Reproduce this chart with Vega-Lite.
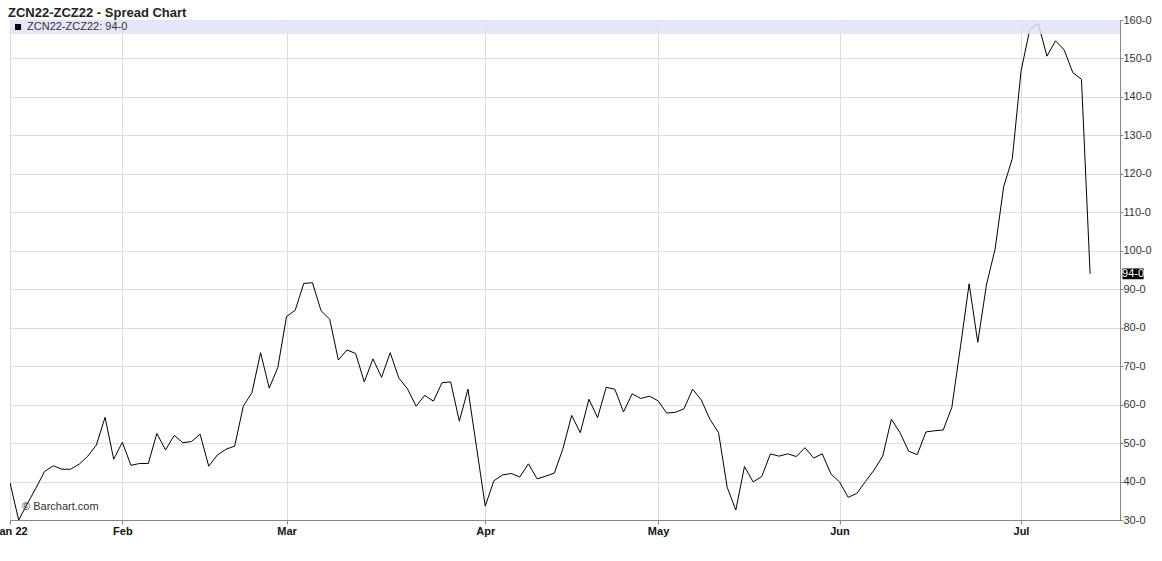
{
  "$schema": "https://vega.github.io/schema/vega-lite/v6.json",
  "width": 1110,
  "height": 500,
  "autosize": "none",
  "padding": {"left": 10, "top": 20, "right": 42, "bottom": 41},
  "background": "white",
  "title": {
    "text": "ZCN22-ZCZ22 - Spread Chart",
    "anchor": "start",
    "frame": "group",
    "dx": -2,
    "offset": -16,
    "baseline": "alphabetic",
    "font": "Liberation Sans",
    "fontSize": 13,
    "fontWeight": "bold",
    "color": "#222222"
  },
  "config": {
    "font": "Liberation Sans",
    "view": {"stroke": "#888888", "strokeWidth": 1},
    "axis": {
      "labelFont": "Liberation Sans",
      "labelFontSize": 11,
      "labelOverlap": false,
      "labelBound": false,
      "labelFlush": false,
      "tickColor": "#888888",
      "domainColor": "#888888",
      "gridColor": "#dddddd",
      "gridWidth": 1,
      "title": null
    },
    "axisX": {
      "labelFontWeight": "bold",
      "labelColor": "#111111",
      "labelPadding": 1,
      "tickSize": 4
    },
    "axisY": {
      "labelColor": "#333333",
      "labelPadding": 0,
      "tickSize": 3
    }
  },
  "data": {
    "values": [
      {"i": -13, "date": "2022-01-12", "spread": 39.7},
      {"i": -12, "date": "2022-01-13", "spread": 30.0},
      {"i": -11, "date": "2022-01-14", "spread": 34.2},
      {"i": -10, "date": "2022-01-18", "spread": 38.3},
      {"i": -9, "date": "2022-01-19", "spread": 42.6},
      {"i": -8, "date": "2022-01-20", "spread": 44.1},
      {"i": -7, "date": "2022-01-21", "spread": 43.2},
      {"i": -6, "date": "2022-01-24", "spread": 43.2},
      {"i": -5, "date": "2022-01-25", "spread": 44.5},
      {"i": -4, "date": "2022-01-26", "spread": 46.6},
      {"i": -3, "date": "2022-01-27", "spread": 49.5},
      {"i": -2, "date": "2022-01-28", "spread": 56.7},
      {"i": -1, "date": "2022-01-31", "spread": 45.8},
      {"i": 0, "date": "2022-02-01", "spread": 50.2},
      {"i": 1, "date": "2022-02-02", "spread": 44.2},
      {"i": 2, "date": "2022-02-03", "spread": 44.7},
      {"i": 3, "date": "2022-02-04", "spread": 44.7},
      {"i": 4, "date": "2022-02-07", "spread": 52.5},
      {"i": 5, "date": "2022-02-08", "spread": 48.2},
      {"i": 6, "date": "2022-02-09", "spread": 52.0},
      {"i": 7, "date": "2022-02-10", "spread": 50.1},
      {"i": 8, "date": "2022-02-11", "spread": 50.4},
      {"i": 9, "date": "2022-02-14", "spread": 52.3},
      {"i": 10, "date": "2022-02-15", "spread": 44.0},
      {"i": 11, "date": "2022-02-16", "spread": 46.9},
      {"i": 12, "date": "2022-02-17", "spread": 48.4},
      {"i": 13, "date": "2022-02-18", "spread": 49.2},
      {"i": 14, "date": "2022-02-22", "spread": 59.6},
      {"i": 15, "date": "2022-02-23", "spread": 63.1},
      {"i": 16, "date": "2022-02-24", "spread": 73.5},
      {"i": 17, "date": "2022-02-25", "spread": 64.3},
      {"i": 18, "date": "2022-02-28", "spread": 69.7},
      {"i": 19, "date": "2022-03-01", "spread": 82.9},
      {"i": 20, "date": "2022-03-02", "spread": 84.5},
      {"i": 21, "date": "2022-03-03", "spread": 91.5},
      {"i": 22, "date": "2022-03-04", "spread": 91.7},
      {"i": 23, "date": "2022-03-07", "spread": 84.4},
      {"i": 24, "date": "2022-03-08", "spread": 82.2},
      {"i": 25, "date": "2022-03-09", "spread": 71.6},
      {"i": 26, "date": "2022-03-10", "spread": 74.2},
      {"i": 27, "date": "2022-03-11", "spread": 73.3},
      {"i": 28, "date": "2022-03-14", "spread": 65.9},
      {"i": 29, "date": "2022-03-15", "spread": 71.9},
      {"i": 30, "date": "2022-03-16", "spread": 67.1},
      {"i": 31, "date": "2022-03-17", "spread": 73.5},
      {"i": 32, "date": "2022-03-18", "spread": 66.9},
      {"i": 33, "date": "2022-03-21", "spread": 64.1},
      {"i": 34, "date": "2022-03-22", "spread": 59.6},
      {"i": 35, "date": "2022-03-23", "spread": 62.4},
      {"i": 36, "date": "2022-03-24", "spread": 60.9},
      {"i": 37, "date": "2022-03-25", "spread": 65.7},
      {"i": 38, "date": "2022-03-28", "spread": 65.9},
      {"i": 39, "date": "2022-03-29", "spread": 55.7},
      {"i": 40, "date": "2022-03-30", "spread": 64.0},
      {"i": 41, "date": "2022-03-31", "spread": 48.8},
      {"i": 42, "date": "2022-04-01", "spread": 33.6},
      {"i": 43, "date": "2022-04-04", "spread": 40.2},
      {"i": 44, "date": "2022-04-05", "spread": 41.7},
      {"i": 45, "date": "2022-04-06", "spread": 42.1},
      {"i": 46, "date": "2022-04-07", "spread": 41.2},
      {"i": 47, "date": "2022-04-08", "spread": 44.6},
      {"i": 48, "date": "2022-04-11", "spread": 40.7},
      {"i": 49, "date": "2022-04-12", "spread": 41.4},
      {"i": 50, "date": "2022-04-13", "spread": 42.2},
      {"i": 51, "date": "2022-04-14", "spread": 48.6},
      {"i": 52, "date": "2022-04-18", "spread": 57.2},
      {"i": 53, "date": "2022-04-19", "spread": 52.7},
      {"i": 54, "date": "2022-04-20", "spread": 61.4},
      {"i": 55, "date": "2022-04-21", "spread": 56.6},
      {"i": 56, "date": "2022-04-22", "spread": 64.5},
      {"i": 57, "date": "2022-04-25", "spread": 64.0},
      {"i": 58, "date": "2022-04-26", "spread": 58.1},
      {"i": 59, "date": "2022-04-27", "spread": 62.8},
      {"i": 60, "date": "2022-04-28", "spread": 61.6},
      {"i": 61, "date": "2022-04-29", "spread": 62.2},
      {"i": 62, "date": "2022-05-02", "spread": 61.0},
      {"i": 63, "date": "2022-05-03", "spread": 57.8},
      {"i": 64, "date": "2022-05-04", "spread": 58.0},
      {"i": 65, "date": "2022-05-05", "spread": 58.9},
      {"i": 66, "date": "2022-05-06", "spread": 64.0},
      {"i": 67, "date": "2022-05-09", "spread": 61.2},
      {"i": 68, "date": "2022-05-10", "spread": 56.2},
      {"i": 69, "date": "2022-05-11", "spread": 52.7},
      {"i": 70, "date": "2022-05-12", "spread": 38.5},
      {"i": 71, "date": "2022-05-13", "spread": 32.6},
      {"i": 72, "date": "2022-05-16", "spread": 43.9},
      {"i": 73, "date": "2022-05-17", "spread": 39.9},
      {"i": 74, "date": "2022-05-18", "spread": 41.3},
      {"i": 75, "date": "2022-05-19", "spread": 47.2},
      {"i": 76, "date": "2022-05-20", "spread": 46.6},
      {"i": 77, "date": "2022-05-23", "spread": 47.2},
      {"i": 78, "date": "2022-05-24", "spread": 46.5},
      {"i": 79, "date": "2022-05-25", "spread": 48.8},
      {"i": 80, "date": "2022-05-26", "spread": 46.1},
      {"i": 81, "date": "2022-05-27", "spread": 47.2},
      {"i": 82, "date": "2022-05-31", "spread": 42.0},
      {"i": 83, "date": "2022-06-01", "spread": 39.9},
      {"i": 84, "date": "2022-06-02", "spread": 35.9},
      {"i": 85, "date": "2022-06-03", "spread": 36.9},
      {"i": 86, "date": "2022-06-06", "spread": 40.0},
      {"i": 87, "date": "2022-06-07", "spread": 43.0},
      {"i": 88, "date": "2022-06-08", "spread": 46.6},
      {"i": 89, "date": "2022-06-09", "spread": 56.2},
      {"i": 90, "date": "2022-06-10", "spread": 52.7},
      {"i": 91, "date": "2022-06-13", "spread": 47.9},
      {"i": 92, "date": "2022-06-14", "spread": 47.0},
      {"i": 93, "date": "2022-06-15", "spread": 52.9},
      {"i": 94, "date": "2022-06-16", "spread": 53.2},
      {"i": 95, "date": "2022-06-17", "spread": 53.4},
      {"i": 96, "date": "2022-06-21", "spread": 59.3},
      {"i": 97, "date": "2022-06-22", "spread": 75.1},
      {"i": 98, "date": "2022-06-23", "spread": 91.4},
      {"i": 99, "date": "2022-06-24", "spread": 76.2},
      {"i": 100, "date": "2022-06-27", "spread": 91.1},
      {"i": 101, "date": "2022-06-28", "spread": 100.4},
      {"i": 102, "date": "2022-06-29", "spread": 116.7},
      {"i": 103, "date": "2022-06-30", "spread": 124.0},
      {"i": 104, "date": "2022-07-01", "spread": 146.6},
      {"i": 105, "date": "2022-07-05", "spread": 157.4},
      {"i": 106, "date": "2022-07-06", "spread": 159.1},
      {"i": 107, "date": "2022-07-07", "spread": 150.6},
      {"i": 108, "date": "2022-07-08", "spread": 154.6},
      {"i": 109, "date": "2022-07-11", "spread": 152.2},
      {"i": 110, "date": "2022-07-12", "spread": 146.3},
      {"i": 111, "date": "2022-07-13", "spread": 144.6},
      {"i": 112, "date": "2022-07-14", "spread": 94.0}
    ]
  },
  "layer": [
    {
      "mark": {"type": "line", "color": "#000000", "strokeWidth": 1, "clip": true},
      "encoding": {
        "x": {
          "field": "i",
          "type": "quantitative",
          "scale": {"domain": [-13, 115.46], "nice": false, "zero": false},
          "axis": {
            "values": [-13, 0, 19, 42, 62, 83, 104],
            "labelExpr": "datum.value == -13 ? 'Jan 22' : datum.value == 0 ? 'Feb' : datum.value == 19 ? 'Mar' : datum.value == 42 ? 'Apr' : datum.value == 62 ? 'May' : datum.value == 83 ? 'Jun' : 'Jul'"
          }
        },
        "y": {
          "field": "spread",
          "type": "quantitative",
          "scale": {"domain": [30, 160], "nice": false, "zero": false},
          "axis": {
            "orient": "right",
            "values": [30, 40, 50, 60, 70, 80, 90, 100, 110, 120, 130, 140, 150, 160],
            "labelExpr": "datum.value + '-0'"
          }
        }
      }
    },
    {
      "data": {"values": [{"band": "legend"}]},
      "mark": {"type": "rect", "fill": "#e2e2fa", "opacity": 0.85},
      "encoding": {
        "x": {"datum": -13, "type": "quantitative", "axis": {"values": [-13, 0, 19, 42, 62, 83, 104], "labelExpr": "datum.value == -13 ? 'Jan 22' : datum.value == 0 ? 'Feb' : datum.value == 19 ? 'Mar' : datum.value == 42 ? 'Apr' : datum.value == 62 ? 'May' : datum.value == 83 ? 'Jun' : 'Jul'"}},
        "x2": {"datum": 115.46},
        "y": {"datum": 160, "type": "quantitative", "axis": {"orient": "right", "values": [30, 40, 50, 60, 70, 80, 90, 100, 110, 120, 130, 140, 150, 160], "labelExpr": "datum.value + '-0'"}},
        "y2": {"datum": 156.36}
      }
    },
    {
      "data": {"values": [{"legend": "ZCN22-ZCZ22: 94-0"}]},
      "mark": {"type": "point", "shape": "square", "filled": true, "color": "#000000", "size": 36, "opacity": 1},
      "encoding": {
        "x": {"datum": -12.07, "type": "quantitative", "axis": {"values": [-13, 0, 19, 42, 62, 83, 104], "labelExpr": "datum.value == -13 ? 'Jan 22' : datum.value == 0 ? 'Feb' : datum.value == 19 ? 'Mar' : datum.value == 42 ? 'Apr' : datum.value == 62 ? 'May' : datum.value == 83 ? 'Jun' : 'Jul'"}},
        "y": {"datum": 158.18, "type": "quantitative", "axis": {"orient": "right", "values": [30, 40, 50, 60, 70, 80, 90, 100, 110, 120, 130, 140, 150, 160], "labelExpr": "datum.value + '-0'"}}
      }
    },
    {
      "data": {"values": [{"legend": "ZCN22-ZCZ22: 94-0"}]},
      "mark": {"type": "text", "align": "left", "baseline": "middle", "fontSize": 11, "color": "#333333", "font": "Liberation Sans"},
      "encoding": {
        "x": {"datum": -11.03, "type": "quantitative", "axis": {"values": [-13, 0, 19, 42, 62, 83, 104], "labelExpr": "datum.value == -13 ? 'Jan 22' : datum.value == 0 ? 'Feb' : datum.value == 19 ? 'Mar' : datum.value == 42 ? 'Apr' : datum.value == 62 ? 'May' : datum.value == 83 ? 'Jun' : 'Jul'"}},
        "y": {"datum": 158.18, "type": "quantitative", "axis": {"orient": "right", "values": [30, 40, 50, 60, 70, 80, 90, 100, 110, 120, 130, 140, 150, 160], "labelExpr": "datum.value + '-0'"}},
        "text": {"field": "legend"}
      }
    },
    {
      "data": {"values": [{"credit": "© Barchart.com"}]},
      "mark": {"type": "text", "align": "left", "baseline": "middle", "fontSize": 11, "color": "#333333", "font": "Liberation Sans"},
      "encoding": {
        "x": {"datum": -11.61, "type": "quantitative", "axis": {"values": [-13, 0, 19, 42, 62, 83, 104], "labelExpr": "datum.value == -13 ? 'Jan 22' : datum.value == 0 ? 'Feb' : datum.value == 19 ? 'Mar' : datum.value == 42 ? 'Apr' : datum.value == 62 ? 'May' : datum.value == 83 ? 'Jun' : 'Jul'"}},
        "y": {"datum": 33.38, "type": "quantitative", "axis": {"orient": "right", "values": [30, 40, 50, 60, 70, 80, 90, 100, 110, 120, 130, 140, 150, 160], "labelExpr": "datum.value + '-0'"}},
        "text": {"field": "credit"}
      }
    },
    {
      "data": {"values": [{"last": "94-0"}]},
      "mark": {"type": "rect", "fill": "#000000"},
      "encoding": {
        "x": {"datum": 115.75, "type": "quantitative", "axis": {"values": [-13, 0, 19, 42, 62, 83, 104], "labelExpr": "datum.value == -13 ? 'Jan 22' : datum.value == 0 ? 'Feb' : datum.value == 19 ? 'Mar' : datum.value == 42 ? 'Apr' : datum.value == 62 ? 'May' : datum.value == 83 ? 'Jun' : 'Jul'"}},
        "x2": {"datum": 118.2},
        "y": {"datum": 95.4, "type": "quantitative", "axis": {"orient": "right", "values": [30, 40, 50, 60, 70, 80, 90, 100, 110, 120, 130, 140, 150, 160], "labelExpr": "datum.value + '-0'"}},
        "y2": {"datum": 92.6}
      }
    },
    {
      "data": {"values": [{"last": "94-0"}]},
      "mark": {"type": "text", "align": "center", "baseline": "middle", "fontSize": 11, "color": "#ffffff", "font": "Liberation Sans"},
      "encoding": {
        "x": {"datum": 116.98, "type": "quantitative", "axis": {"values": [-13, 0, 19, 42, 62, 83, 104], "labelExpr": "datum.value == -13 ? 'Jan 22' : datum.value == 0 ? 'Feb' : datum.value == 19 ? 'Mar' : datum.value == 42 ? 'Apr' : datum.value == 62 ? 'May' : datum.value == 83 ? 'Jun' : 'Jul'"}},
        "y": {"datum": 94, "type": "quantitative", "axis": {"orient": "right", "values": [30, 40, 50, 60, 70, 80, 90, 100, 110, 120, 130, 140, 150, 160], "labelExpr": "datum.value + '-0'"}},
        "text": {"field": "last"}
      }
    }
  ]
}
